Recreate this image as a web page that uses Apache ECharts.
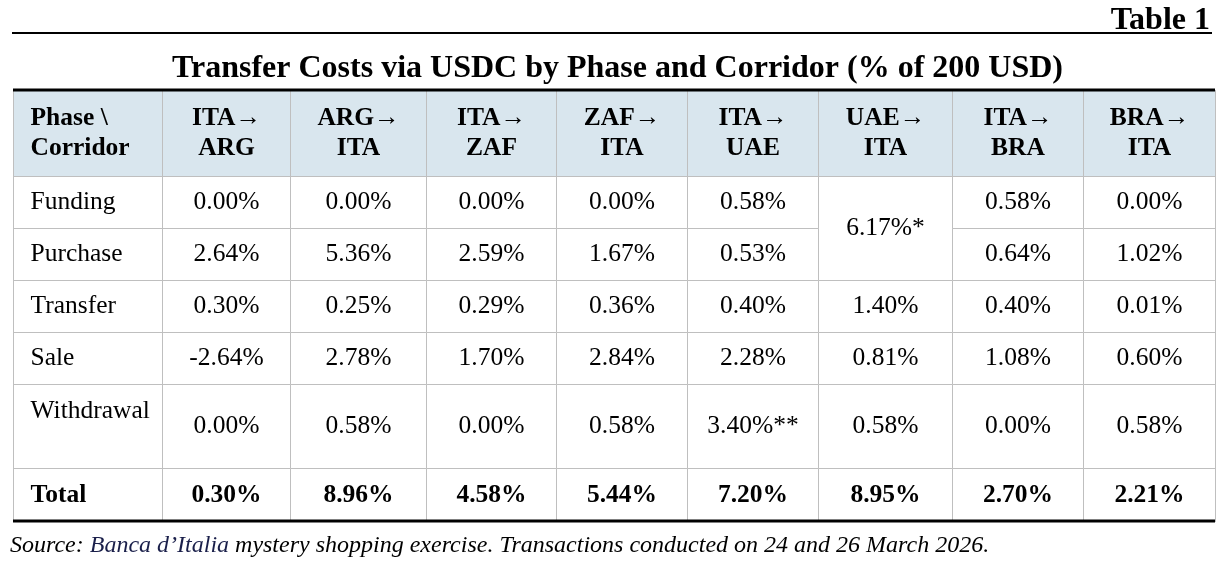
<!DOCTYPE html>
<html>
<head>
<meta charset="utf-8">
<script src="https://cdn.jsdelivr.net/npm/echarts@6.0.0/dist/echarts.min.js"></script>
<style>
  html, body { margin: 0; padding: 0; background: #fff; }
  #chart { width: 1216px; height: 570px; }
</style>
</head>
<body>
<div id="chart"></div>
<script>
var corridors = ['ITA→ARG', 'ARG→ITA', 'ITA→ZAF', 'ZAF→ITA', 'ITA→UAE', 'UAE→ITA', 'ITA→BRA', 'BRA→ITA'];
var phases = ['Funding', 'Purchase', 'Transfer', 'Sale', 'Withdrawal', 'Total'];
var funding    = [0.00, 0.00, 0.00, 0.00, 0.58, null, 0.58, 0.00];
var purchase   = [2.64, 5.36, 2.59, 1.67, 0.53, null, 0.64, 1.02];
var transfer   = [0.30, 0.25, 0.29, 0.36, 0.40, 1.40, 0.40, 0.01];
var sale       = [-2.64, 2.78, 1.70, 2.84, 2.28, 0.81, 1.08, 0.60];
var withdrawal = [0.00, 0.58, 0.00, 0.58, 3.40, 0.58, 0.00, 0.58];
var total      = [0.30, 8.96, 4.58, 5.44, 7.20, 8.95, 2.70, 2.21];
// UAE→ITA funding + purchase reported together
var mergedUae = 6.17;
var notes = { '1,5': '*', '4,4': '**' }; // row,col -> footnote mark

// ---- layout ----
var tableLeft = 13, tableTop = 90;
var headWidth = 149, headHeight = 86;
var colWidths = [128, 136, 130, 131, 131, 134, 131, 132];
var rowHeights = [52, 52, 52, 52, 84, 53];
var serif = 'Liberation Serif, Times New Roman, serif';
var fs = 25.5;

var tableWidth = headWidth + colWidths.reduce(function (a, b) { return a + b; }, 0);
var tableHeight = headHeight + rowHeights.reduce(function (a, b) { return a + b; }, 0);

function pct(v) { return v.toFixed(2) + '%'; }

var rows = [funding, purchase, transfer, sale, withdrawal, total];
var bodyData = [];
rows.forEach(function (vals, r) {
  vals.forEach(function (v, c) {
    if (v == null) return;
    var cell = { coord: [c, r], value: pct(v) + (notes[r + ',' + c] || '') };
    if (r === 5) cell.label = { fontWeight: 'bold' };
    bodyData.push(cell);
  });
});
bodyData.push({ coord: [5, [0, 1]], mergeCells: true, value: pct(mergedUae) + notes['1,5'] });

var chart = echarts.init(document.getElementById('chart'));
chart.setOption({
  animation: false,
  title: [{
    text: 'Table 1', right: 1, top: 0,
    textStyle: { fontFamily: serif, fontSize: 32, fontWeight: 'bold', color: '#000' }
  }, {
    text: 'Transfer Costs via USDC by Phase and Corridor (% of 200 USD)', left: 167, top: 48,
    textStyle: { fontFamily: serif, fontSize: 32, fontWeight: 'bold', color: '#000' }
  }, {
    text: 'Source: {n|Banca d\u2019Italia} mystery shopping exercise. Transactions conducted on 24 and 26 March 2026.',
    left: 5, top: 529,
    textStyle: {
      fontFamily: serif, fontSize: 24, fontStyle: 'italic', fontWeight: 'normal', color: '#000',
      rich: { n: { fontFamily: serif, fontSize: 24, fontStyle: 'italic', color: '#1a1f4a' } }
    }
  }],
  matrix: {
    left: tableLeft, top: tableTop, width: tableWidth, height: tableHeight,
    backgroundStyle: { color: '#fff', borderColor: '#bfbfbf', borderWidth: 1 },
    x: {
      levelSize: headHeight,
      data: corridors.map(function (c, i) { return { value: c.replace('→', '→\n'), size: colWidths[i] }; }),
      itemStyle: { color: '#d9e6ee', borderColor: '#bfbfbf', borderWidth: 1 },
      label: { fontFamily: serif, fontSize: fs, fontWeight: 'bold', color: '#000', lineHeight: 30, padding: [4, 0, 0, 0] },
      dividerLineStyle: { color: '#bfbfbf', width: 1 }
    },
    y: {
      levelSize: headWidth,
      data: phases.map(function (p, i) {
        // withdrawal label sits at the top of its tall row
        var item = { value: i === 4 ? p + '\n ' : p, size: rowHeights[i] };
        if (i === 5) item.label = { fontWeight: 'bold' };
        return item;
      }),
      itemStyle: { color: '#fff', borderColor: '#bfbfbf', borderWidth: 1 },
      label: {
        fontFamily: serif, fontSize: fs, color: '#000', lineHeight: 30, padding: [2, 0, 0, 0],
        position: 'insideLeft', distance: 17, align: 'left', verticalAlign: 'middle', overflow: 'none'
      },
      dividerLineStyle: { color: '#bfbfbf', width: 1 }
    },
    corner: {
      data: [{ coord: [-1, -1], value: 'Phase \\\nCorridor' }],
      itemStyle: { color: '#d9e6ee', borderColor: '#bfbfbf', borderWidth: 1 },
      label: {
        fontFamily: serif, fontSize: fs, fontWeight: 'bold', color: '#000', lineHeight: 30, padding: [4, 0, 0, 0],
        position: 'insideLeft', distance: 17, align: 'left', verticalAlign: 'middle', overflow: 'none'
      }
    },
    body: {
      data: bodyData,
      itemStyle: { color: '#fff', borderColor: '#bfbfbf', borderWidth: 1 },
      label: {
        fontFamily: serif, fontSize: fs, color: '#000', lineHeight: 30, padding: [2, 0, 0, 0],
        position: 'inside', align: 'center', verticalAlign: 'middle', overflow: 'none'
      }
    }
  },
  graphic: [
    { type: 'line', shape: { x1: 12, y1: 33, x2: 1212, y2: 33 }, style: { stroke: '#000', lineWidth: 2 }, z: 100 },
    { type: 'line', shape: { x1: tableLeft, y1: tableTop, x2: tableLeft + tableWidth, y2: tableTop }, style: { stroke: '#000', lineWidth: 3 }, z: 100 },
    { type: 'line', shape: { x1: tableLeft, y1: tableTop + tableHeight, x2: tableLeft + tableWidth, y2: tableTop + tableHeight }, style: { stroke: '#000', lineWidth: 3 }, z: 100 }
  ]
});
</script>
</body>
</html>
